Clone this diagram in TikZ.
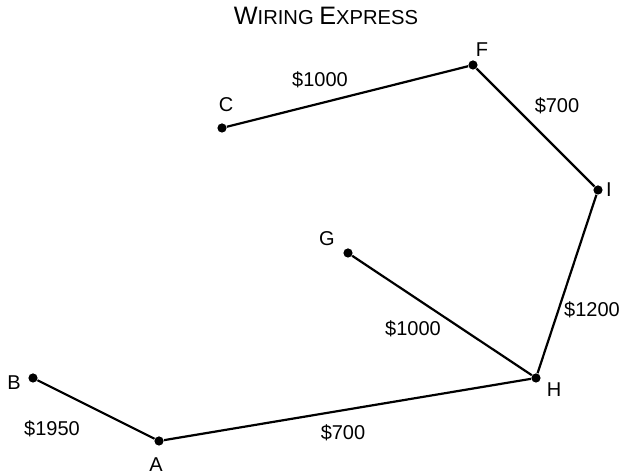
\documentclass[tikz,border=0pt]{standalone}
\usepackage{fontspec}
\setmainfont{Liberation Sans}
\usepackage{tikz}

\tikzset{
  site/.style={circle, fill=black, inner sep=0pt, minimum size=4.6pt},
  wire/.style={black, line width=1.1pt},
  tag/.style={font=\fontsize{10}{12}\selectfont, inner sep=0pt}
}

\begin{document}
\begin{tikzpicture}[x=0.5pt, y=-0.5pt]
  \useasboundingbox (0,0) rectangle (623,475);

  % title
  \node[inner sep=0pt, anchor=base] (title) at (326,25)
    {\fontsize{12.6}{14}\selectfont W\fontsize{10.1}{12}\selectfont IRING
     \fontsize{12.6}{14}\selectfont E\fontsize{10.1}{12}\selectfont XPRESS};

  % sites
  \foreach \n/\x/\y in {A/159/441, B/33/378, C/222/128, F/473/65,
                        G/348/253, H/536/378, I/598/190}
    \node[site] (\n) at (\x,\y) {};

  % site names
  \node[tag] (nA) at (156,465) {A};
  \node[tag] (nB) at (14,383) {B};
  \node[tag] (nC) at (226,105) {C};
  \node[tag] (nF) at (482,50) {F};
  \node[tag] (nG) at (327,239) {G};
  \node[tag] (nH) at (554,390) {H};
  \node[tag] (nI) at (609,190) {I};

  % wires
  \draw[wire] (B) -- (A);
  \draw[wire] (A) -- (H);
  \draw[wire] (G) -- (H);
  \draw[wire] (H) -- (I);
  \draw[wire] (I) -- (F);
  \draw[wire] (F) -- (C);

  % costs
  \node[tag] (cBA) at (52,429) {\$1950};
  \node[tag] (cAH) at (343,433) {\$700};
  \node[tag] (cGH) at (413,329) {\$1000};
  \node[tag] (cHI) at (592,310) {\$1200};
  \node[tag] (cIF) at (557,106) {\$700};
  \node[tag] (cFC) at (320,80) {\$1000};
\end{tikzpicture}
\end{document}
